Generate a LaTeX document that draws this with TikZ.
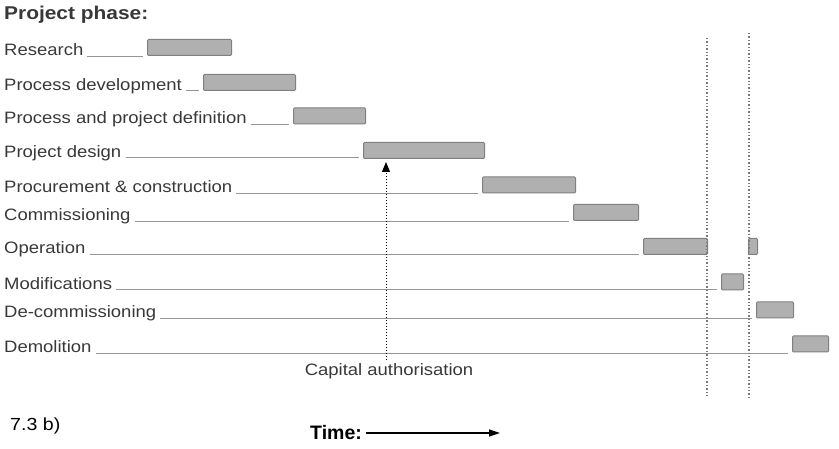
\documentclass[tikz,border=0pt]{standalone}
\usepackage{fontspec}
\setmainfont{Liberation Sans}[FakeStretch=1.12]
\newfontfamily\titlefont{Liberation Sans}[FakeStretch=1.13]
\newfontfamily\plainfont{Liberation Sans}
\usetikzlibrary{calc,arrows.meta}
\definecolor{txt}{HTML}{383838}
\definecolor{barfill}{HTML}{B0B0B0}
\definecolor{barline}{HTML}{808080}
\definecolor{rowgrey}{HTML}{969696}
\definecolor{dotgrey}{HTML}{7A7A7A}
\begin{document}
\begin{tikzpicture}[x=1pt,y=-1pt,
  lbl/.style={anchor=base west,inner sep=0pt,text=txt,font=\fontsize{16.5}{18}\selectfont},
  bar/.style={draw=barline,fill=barfill,line width=1pt,rounded corners=1pt,
    minimum height=16pt,inner sep=0pt,anchor=south west},
  rowline/.style={draw=rowgrey,line width=0.9pt},
  vdots/.style={draw=dotgrey,line width=1.4pt,dash pattern=on 1.4pt off 2pt},
]
\useasboundingbox (0,0) rectangle (839,449);

\node[anchor=base west,inner sep=0pt,text=txt,font=\titlefont\bfseries\fontsize{18.5}{20}\selectfont] (title) at (4,19.5) {Project phase:};

% labels
\node[lbl] (l1) at (4,56) {Research};
\node[lbl] (l2) at (4,90.5) {Process development};
\node[lbl] (l3) at (4,124) {Process and project definition};
\node[lbl] (l4) at (4,157.5) {Project design};
\node[lbl] (l5) at (4,193) {Procurement \& construction};
\node[lbl] (l6) at (4,221) {Commissioning};
\node[lbl] (l7) at (4,254) {Operation};
\node[lbl] (l8) at (4,289.5) {Modifications};
\node[lbl] (l9) at (4,318) {De-commissioning};
\node[lbl] (l10) at (4,353) {Demolition};

% bars
\node[bar,minimum width=84pt] (b1) at (147,56) {};
\node[bar,minimum width=92pt] (b2) at (203,91) {};
\node[bar,minimum width=72pt] (b3) at (293,124.5) {};
\node[bar,minimum width=121pt] (b4) at (363,159) {};
\node[bar,minimum width=93pt] (b5) at (482,193.5) {};
\node[bar,minimum width=65pt] (b6) at (573,221) {};
\node[bar,minimum width=64pt] (b7) at (643,255) {};
\node[bar,minimum width=9pt] (b7b) at (748,255) {};
\node[bar,minimum width=22pt] (b8) at (721,290.5) {};
\node[bar,minimum width=37pt] (b9) at (756,318.5) {};
\node[bar,minimum width=36pt] (b10) at (792,352.5) {};

% row lines
\foreach \i in {1,...,10}{
  \draw[rowline] ($(l\i.base east)+(4,0)$) -- ($(b\i.west |- l\i.base)+(-4,0)$);
}

% vertical dotted lines
\coordinate (d1t) at (707,38);
\coordinate (d1b) at (707,397);
\coordinate (d2t) at (749,33);
\coordinate (d2b) at (749,397);
\draw[vdots] (d1t) -- (d1b);
\draw[vdots] (d2t) -- (d2b);

% capital authorisation
\node[anchor=base,inner sep=0pt,text=txt,font=\fontsize{16.5}{18}\selectfont] (cap) at (389,376) {Capital authorisation};
\coordinate (ca) at (386,360);
\draw[draw=black,line width=1pt,dash pattern=on 1pt off 2pt,
  -{Triangle[length=10pt,width=8pt]}] (ca) -- ($(ca |- b4.south)+(0,3)$);

% footer
\node[anchor=base west,inner sep=0pt,font=\fontsize{17.5}{19}\selectfont] (fig) at (10,431) {7.3 b)};
\node[anchor=base west,inner sep=0pt,font=\plainfont\bfseries\fontsize{19.5}{22}\selectfont] (time) at (310,439) {Time:};
\coordinate (tend) at (500,433);
\draw[line width=1.2pt,-{Triangle[length=11pt,width=7pt]}] ($(time.east |- tend)+(4,0)$) -- (tend);
\end{tikzpicture}
\end{document}
